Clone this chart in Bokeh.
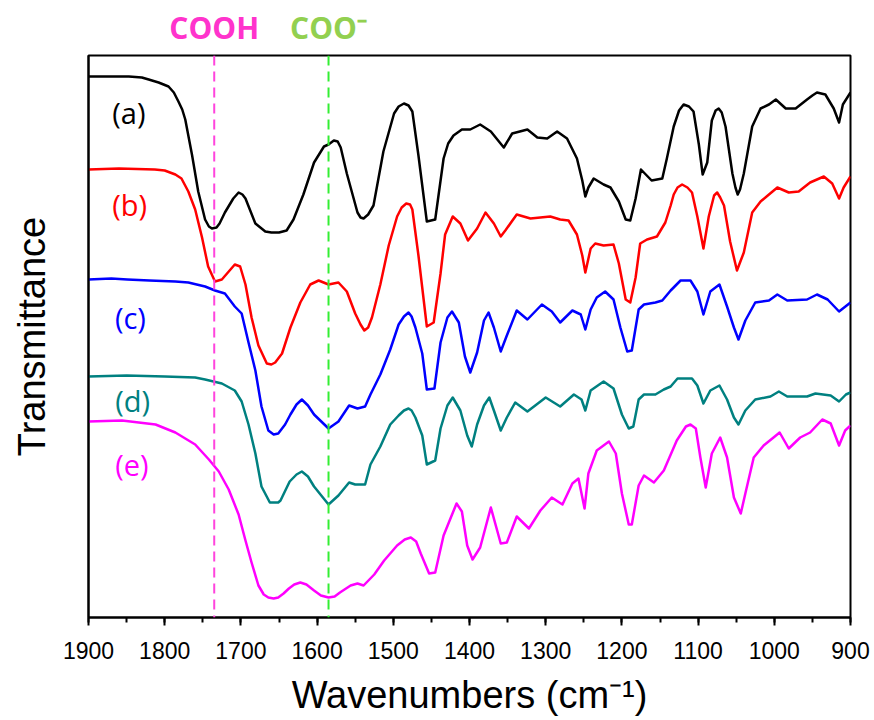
from bokeh.plotting import figure
from bokeh.layouts import column
from bokeh.models import Range1d, Span, Label, SingleIntervalTicker, FixedTicker
from bokeh.core.properties import value
from bokeh.embed import file_html
from bokeh.resources import INLINE

# ---- data (wavenumber in cm-1, offset transmittance in a.u.) ----
a_wn = [1900, 1870, 1847, 1830, 1821, 1808, 1795, 1788, 1782, 1777, 1773, 1764, 1756, 1747, 1742, 1738, 1732, 1728,
        1721, 1710, 1703, 1698, 1694, 1681, 1668, 1660, 1650, 1640, 1631, 1618, 1604, 1591, 1585, 1578, 1573, 1569,
        1561, 1547, 1543, 1539, 1533, 1526, 1513, 1499, 1493, 1486, 1480, 1475, 1467, 1456, 1445, 1434, 1428, 1421,
        1410, 1399, 1386, 1372, 1355, 1344, 1324, 1311, 1298, 1285, 1272, 1259, 1252, 1248, 1244, 1237, 1224, 1215,
        1204, 1195, 1189, 1182, 1175, 1161, 1147, 1141, 1132, 1125, 1119, 1112, 1106, 1099, 1094, 1088, 1082, 1077,
        1073, 1069, 1064, 1055, 1051, 1048, 1045, 1040, 1029, 1018, 1007, 998, 985, 972, 957, 950, 944, 933, 922,
        915, 910, 900]
a_val = [5.41, 5.41, 5.41, 5.40, 5.38, 5.35, 5.31, 5.25, 5.16, 5.08, 4.98, 4.62, 4.26, 3.98, 3.91, 3.89, 3.90, 3.94,
         4.05, 4.19, 4.25, 4.23, 4.19, 3.94, 3.86, 3.85, 3.85, 3.87, 3.98, 4.23, 4.55, 4.71, 4.73, 4.77, 4.76, 4.70,
         4.44, 4.05, 4.00, 3.99, 4.03, 4.12, 4.66, 5.04, 5.11, 5.14, 5.12, 5.06, 4.62, 3.96, 3.98, 4.59, 4.74, 4.82,
         4.88, 4.88, 4.93, 4.86, 4.70, 4.84, 4.88, 4.80, 4.79, 4.86, 4.79, 4.59, 4.37, 4.21, 4.30, 4.39, 4.33, 4.30,
         4.16, 3.98, 3.97, 4.19, 4.48, 4.37, 4.39, 4.59, 4.91, 5.07, 5.13, 5.11, 5.06, 4.73, 4.43, 4.55, 4.97, 5.07,
         5.09, 5.05, 4.91, 4.44, 4.30, 4.23, 4.28, 4.44, 4.91, 5.09, 5.13, 5.18, 5.09, 5.09, 5.18, 5.22, 5.25, 5.23,
         5.09, 4.95, 5.13, 5.25]

b_wn = [1900, 1860, 1813, 1800, 1786, 1778, 1769, 1760, 1751, 1743, 1734, 1725, 1708, 1701, 1694, 1686, 1677, 1666,
        1660, 1655, 1646, 1635, 1622, 1609, 1598, 1585, 1572, 1561, 1550, 1543, 1538, 1533, 1528, 1517, 1506, 1495,
        1489, 1483, 1478, 1475, 1467, 1456, 1447, 1438, 1432, 1422, 1412, 1402, 1390, 1379, 1368, 1359, 1353, 1338,
        1320, 1294, 1281, 1270, 1259, 1252, 1248, 1241, 1235, 1224, 1211, 1204, 1195, 1189, 1182, 1176, 1167, 1154,
        1143, 1136, 1132, 1127, 1121, 1114, 1108, 1101, 1093, 1086, 1079, 1075, 1071, 1066, 1058, 1049, 1040, 1029,
        1018, 1007, 996, 981, 968, 953, 935, 924, 915, 909, 900]
b_val = [4.48, 4.49, 4.48, 4.47, 4.43, 4.39, 4.26, 4.08, 3.80, 3.51, 3.36, 3.38, 3.53, 3.51, 3.33, 3.00, 2.72, 2.54,
         2.53, 2.55, 2.64, 2.90, 3.15, 3.33, 3.37, 3.33, 3.35, 3.26, 3.04, 2.93, 2.87, 2.90, 3.00, 3.33, 3.72, 4.01,
         4.10, 4.14, 4.13, 4.08, 3.62, 2.91, 2.95, 3.44, 3.83, 4.01, 3.94, 3.77, 3.89, 4.05, 3.94, 3.81, 3.87, 4.03,
         3.99, 4.01, 3.98, 3.97, 3.83, 3.62, 3.45, 3.69, 3.74, 3.72, 3.73, 3.54, 3.18, 3.15, 3.40, 3.74, 3.78, 3.81,
         3.95, 4.12, 4.23, 4.30, 4.33, 4.30, 4.25, 4.01, 3.69, 4.01, 4.22, 4.25, 4.20, 4.12, 3.76, 3.47, 3.65, 4.05,
         4.16, 4.23, 4.30, 4.25, 4.26, 4.35, 4.41, 4.34, 4.19, 4.30, 4.41]

c_wn = [1900, 1870, 1849, 1820, 1786, 1769, 1747, 1734, 1721, 1708, 1699, 1690, 1681, 1673, 1664, 1657, 1651, 1642,
        1635, 1627, 1620, 1612, 1604, 1585, 1572, 1558, 1547, 1537, 1530, 1517, 1504, 1493, 1486, 1480, 1476, 1471,
        1462, 1456, 1446, 1438, 1429, 1423, 1414, 1406, 1399, 1390, 1381, 1375, 1368, 1359, 1351, 1338, 1324, 1305,
        1292, 1281, 1265, 1254, 1248, 1241, 1233, 1222, 1211, 1202, 1193, 1187, 1178, 1171, 1156, 1147, 1136, 1123,
        1110, 1101, 1093, 1084, 1072, 1062, 1053, 1047, 1038, 1025, 1007, 996, 983, 957, 944, 930, 915, 900]
c_val = [3.38, 3.39, 3.38, 3.37, 3.36, 3.35, 3.31, 3.27, 3.24, 3.11, 3.04, 2.75, 2.47, 2.11, 1.87, 1.83, 1.84, 1.93,
         2.03, 2.13, 2.18, 2.12, 2.03, 1.89, 1.96, 2.12, 2.09, 2.11, 2.23, 2.43, 2.68, 2.93, 3.01, 3.05, 3.01, 2.90,
         2.64, 2.28, 2.29, 2.75, 3.00, 3.06, 2.95, 2.61, 2.45, 2.65, 2.97, 3.05, 2.90, 2.66, 2.82, 3.07, 2.98, 3.13,
         3.06, 2.95, 3.07, 3.03, 2.88, 3.08, 3.20, 3.26, 3.18, 2.90, 2.66, 2.67, 3.08, 3.13, 3.15, 3.17, 3.27, 3.37,
         3.37, 3.26, 3.03, 3.26, 3.33, 3.11, 2.90, 2.78, 2.97, 3.15, 3.17, 3.23, 3.17, 3.18, 3.23, 3.18, 3.06, 3.15]

d_wn = [1900, 1850, 1800, 1760, 1747, 1725, 1708, 1699, 1690, 1681, 1673, 1662, 1651, 1648, 1636, 1627, 1620, 1612,
        1604, 1585, 1572, 1558, 1550, 1537, 1530, 1517, 1504, 1493, 1486, 1480, 1476, 1471, 1462, 1456, 1445, 1438,
        1429, 1422, 1412, 1403, 1397, 1390, 1381, 1374, 1368, 1359, 1351, 1340, 1324, 1300, 1281, 1263, 1253, 1248,
        1241, 1224, 1211, 1200, 1191, 1185, 1178, 1171, 1156, 1145, 1136, 1127, 1108, 1101, 1093, 1084, 1072, 1062,
        1053, 1047, 1038, 1025, 1005, 994, 983, 957, 946, 926, 915, 906, 900]
d_val = [2.41, 2.42, 2.41, 2.40, 2.38, 2.34, 2.27, 2.16, 1.93, 1.64, 1.31, 1.15, 1.15, 1.17, 1.36, 1.43, 1.46, 1.41,
         1.31, 1.13, 1.22, 1.35, 1.33, 1.33, 1.53, 1.71, 1.93, 2.02, 2.07, 2.09, 2.07, 2.00, 1.82, 1.53, 1.57, 1.89,
         2.12, 2.20, 2.07, 1.82, 1.71, 1.93, 2.12, 2.20, 2.07, 1.87, 2.00, 2.15, 2.06, 2.20, 2.11, 2.23, 2.18, 2.07,
         2.27, 2.36, 2.29, 2.03, 1.89, 1.91, 2.18, 2.23, 2.23, 2.28, 2.31, 2.39, 2.39, 2.32, 2.14, 2.27, 2.32, 2.18,
         2.00, 1.93, 2.07, 2.18, 2.21, 2.26, 2.21, 2.21, 2.24, 2.22, 2.16, 2.23, 2.25]

e_wn = [1900, 1856, 1812, 1786, 1760, 1742, 1729, 1716, 1703, 1694, 1686, 1677, 1670, 1664, 1657, 1651, 1644, 1637,
        1630, 1622, 1614, 1604, 1595, 1585, 1577, 1570, 1556, 1547, 1539, 1525, 1512, 1495, 1485, 1477, 1470, 1464,
        1453, 1445, 1434, 1425, 1417, 1410, 1403, 1396, 1386, 1372, 1359, 1351, 1338, 1322, 1307, 1292, 1278, 1265,
        1257, 1249, 1244, 1233, 1217, 1208, 1200, 1191, 1187, 1178, 1171, 1158, 1145, 1128, 1116, 1110, 1103, 1097,
        1090, 1082, 1071, 1062, 1053, 1044, 1038, 1027, 1014, 1001, 993, 981, 966, 953, 937, 926, 915, 907, 900]
e_val = [1.96, 1.97, 1.93, 1.85, 1.73, 1.58, 1.46, 1.28, 1.03, 0.77, 0.55, 0.32, 0.23, 0.20, 0.19, 0.20, 0.24, 0.29,
         0.33, 0.35, 0.33, 0.27, 0.22, 0.20, 0.21, 0.25, 0.32, 0.34, 0.32, 0.43, 0.57, 0.72, 0.78, 0.80, 0.76, 0.64,
         0.44, 0.45, 0.82, 0.99, 1.14, 1.06, 0.72, 0.58, 0.70, 1.10, 0.74, 0.75, 1.01, 0.89, 1.07, 1.20, 1.13, 1.34,
         1.39, 1.09, 1.44, 1.67, 1.76, 1.64, 1.24, 0.93, 0.93, 1.32, 1.42, 1.35, 1.47, 1.77, 1.91, 1.93, 1.89, 1.60,
         1.30, 1.64, 1.80, 1.60, 1.20, 1.04, 1.24, 1.60, 1.72, 1.80, 1.85, 1.69, 1.80, 1.85, 1.98, 1.94, 1.72, 1.87, 1.92]

series_names = ["(a)", "(b)", "(c)", "(d)", "(e)"]
series_colors = ["#000000", "#FF0000", "#0000FF", "#008080", "#FF00FF"]
marker_wn = [1735, 1585]
marker_names = ["COOH", "COO\u207b"]
marker_colors = ["#FF33CC", "#92D050"]
line_colors = ["#FF44DD", "#33EE33"]

x_range = Range1d(1900, 900)

# ---- header strip with the band labels ----
hdr = figure(frame_width=762, frame_height=53, x_range=x_range, y_range=Range1d(0, 53),
             x_axis_type=None, y_axis_type=None, output_backend="svg", toolbar_location=None,
             min_border_left=88, min_border_right=24, min_border_top=0, min_border_bottom=0)
hdr.outline_line_color = None
hdr.xgrid.visible = False
hdr.ygrid.visible = False
hdr.text(x=marker_wn, y=[26, 26], text=marker_names, text_color=marker_colors,
         text_align="center", text_baseline="middle",
         text_font=value("Open Sans"), text_font_style="bold", text_font_size="30px")

# ---- main spectra plot ----
p = figure(frame_width=762, frame_height=562, x_range=x_range, y_range=Range1d(0, 5.62),
           output_backend="svg", toolbar_location=None,
           min_border_left=88, min_border_right=24, min_border_top=2, min_border_bottom=103,
           background_fill_color="white", border_fill_color="white")

p.outline_line_color = "black"
p.outline_line_width = 2
p.xgrid.visible = False
p.ygrid.visible = False

xa = p.xaxis[0]
xa.ticker = SingleIntervalTicker(interval=100, num_minor_ticks=2)
xa.axis_line_width = 2
xa.major_tick_line_width = 2
xa.minor_tick_line_width = 2
xa.major_tick_in = 0
xa.major_tick_out = 8
xa.minor_tick_in = 0
xa.minor_tick_out = 5
xa.major_label_text_font = "Liberation Sans"
xa.major_label_text_font_size = "23px"
xa.major_label_text_color = "black"
xa.major_label_standoff = 16
xa.axis_label = "Wavenumbers (cm\u207b\u00b9)"
xa.axis_label_text_font = "Liberation Sans"
xa.axis_label_text_font_size = "38px"
xa.axis_label_text_font_style = "normal"
xa.axis_label_text_color = "black"
xa.axis_label_standoff = 12

ya = p.yaxis[0]
ya.ticker = FixedTicker(ticks=[])
ya.axis_line_width = 2
ya.major_tick_line_color = None
ya.minor_tick_line_color = None
ya.major_label_text_font_size = "0px"
ya.major_label_standoff = 0
ya.axis_label = "Transmittance"
ya.axis_label_text_font = "Liberation Sans"
ya.axis_label_text_font_size = "38px"
ya.axis_label_text_font_style = "normal"
ya.axis_label_text_color = "black"
ya.axis_label_standoff = 36

wn_all = [a_wn, b_wn, c_wn, d_wn, e_wn]
val_all = [a_val, b_val, c_val, d_val, e_val]
for wn, val, col in zip(wn_all, val_all, series_colors):
    p.line(wn, val, line_color=col, line_width=2.5, line_join="round")

for wn, lc in zip(marker_wn, line_colors):
    p.add_layout(Span(location=wn, dimension="height", line_color=lc, line_width=2, line_dash="10 6"))

label_pos = [(1847, 5.05), (1846, 4.13), (1845, 3.00), (1842, 2.17), (1843, 1.53)]
for (lx, ly), name, col in zip(label_pos, series_names, series_colors):
    p.add_layout(Label(x=lx, y=ly, text=name, text_align="center", text_baseline="middle",
                       text_font="Open Sans", text_font_size="29px", text_color=col))

layout = column(hdr, p)
open("out.html", "w").write(file_html(layout, INLINE))
